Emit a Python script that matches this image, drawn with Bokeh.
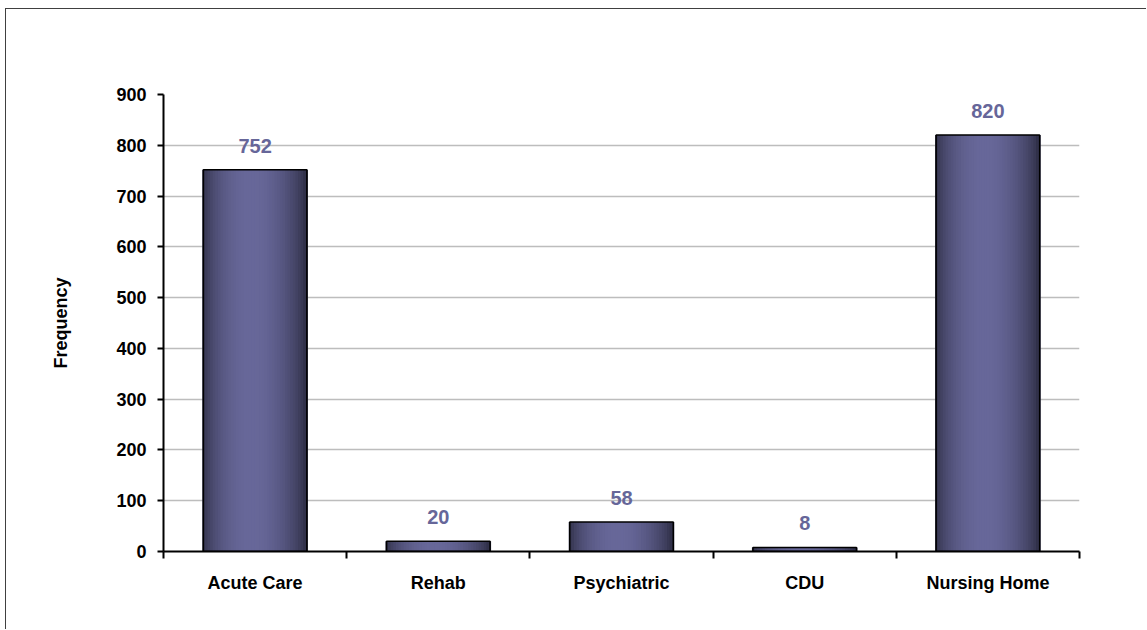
import math
from bokeh.plotting import figure
from bokeh.models import ColumnDataSource, FixedTicker, Range1d, LabelSet
from bokeh.core.properties import value
from bokeh.embed import file_html
from bokeh.resources import INLINE

# ---- data ----
categories = ["Acute Care", "Rehab", "Psychiatric", "CDU", "Nursing Home"]
frequency = [752, 20, 58, 8, 820]
y_ticks = [0, 100, 200, 300, 400, 500, 600, 700, 800, 900]

FONT = "Liberation Sans"
BAR_W = 0.565
N_STRIPS = 40
DARK = (44, 44, 66)
LIGHT = (104, 104, 154)

p = figure(width=1141, height=621,
           x_range=Range1d(0, len(categories)), y_range=Range1d(0, 900),
           output_backend="svg", toolbar_location=None,
           min_border_left=157, min_border_right=68,
           min_border_top=85, min_border_bottom=79)
p.outline_line_color = None
p.background_fill_color = "white"
p.border_fill_color = "white"
p.styles = {"border-left": "1px solid #404040", "border-top": "1px solid #404040",
            "margin-left": "5px", "margin-top": "8px"}

centers = [i + 0.5 for i in range(len(categories))]
bounds = list(range(len(categories) + 1))

# y axis
yax = p.yaxis[0]
yax.ticker = FixedTicker(ticks=y_ticks)
yax.major_label_text_font = FONT
yax.major_label_text_font_style = "bold"
yax.major_label_text_font_size = "18px"
yax.major_label_text_color = "black"
yax.major_label_standoff = 11
yax.major_tick_in = 0
yax.major_tick_out = 6
yax.major_tick_line_width = 2
yax.minor_tick_line_color = None
yax.axis_line_width = 2
yax.axis_label = "Frequency"
yax.axis_label_text_font = FONT
yax.axis_label_text_font_style = "bold"
yax.axis_label_text_font_size = "18px"
yax.axis_label_text_color = "black"
yax.axis_label_standoff = 42

p.ygrid.ticker = FixedTicker(ticks=y_ticks[1:])
p.ygrid.grid_line_color = "#BDBDBD"
p.ygrid.grid_line_width = 1.5

# x axis: labels at category centres, ticks (minor) at category boundaries
xax = p.xaxis[0]
xax.ticker = FixedTicker(ticks=centers, minor_ticks=bounds)
xax.major_label_overrides = {c: name for c, name in zip(centers, categories)}
xax.major_tick_line_color = None
xax.major_tick_in = 0
xax.major_tick_out = 0
xax.minor_tick_in = 0
xax.minor_tick_out = 7
xax.minor_tick_line_width = 2
xax.minor_tick_line_color = "black"
xax.axis_line_width = 2
xax.major_label_text_font = FONT
xax.major_label_text_font_style = "bold"
xax.major_label_text_font_size = "18px"
xax.major_label_text_color = "black"
xax.major_label_standoff = 14
p.xgrid.visible = False

# gradient bars as narrow overlapping strips
sx, stop, scol = [], [], []
sw = BAR_W / N_STRIPS
for c, v in zip(centers, frequency):
    for j in range(N_STRIPS):
        t = (j + 0.5) / N_STRIPS
        f = math.sin(math.pi * t ** 0.92) ** 0.7
        r, g, b = (int(DARK[k] + (LIGHT[k] - DARK[k]) * f) for k in range(3))
        sx.append(c - BAR_W / 2 + (j + 0.5) * sw)
        stop.append(v)
        scol.append("#%02x%02x%02x" % (r, g, b))
p.vbar(x="x", top="top", width=sw * 1.8, bottom=0, fill_color="color", line_color=None,
       source=ColumnDataSource(dict(x=sx, top=stop, color=scol)))

src = ColumnDataSource(dict(x=centers, top=frequency, txt=[str(v) for v in frequency]))
p.vbar(x="x", top="top", width=BAR_W, bottom=0, fill_color=None,
       line_color="black", line_width=1.5, source=src)

labels = LabelSet(x="x", y="top", text="txt", source=src, y_offset=17,
                  text_align="center", text_baseline="alphabetic",
                  text_font=value(FONT), text_font_style="bold", text_font_size="20px",
                  text_color="#666699")
p.add_layout(labels)

open("out.html", "w").write(file_html(p, INLINE))
